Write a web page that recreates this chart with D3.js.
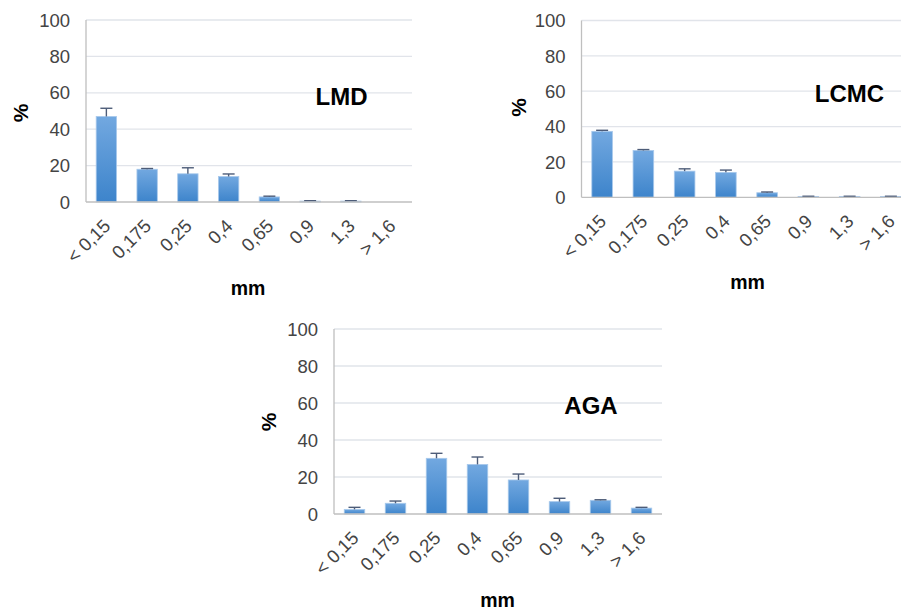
<!DOCTYPE html>
<html>
<head>
<meta charset="utf-8">
<script src="https://cdn.jsdelivr.net/npm/d3@7"></script>
<style>
  body { margin: 0; background: #fff; }
  svg { display: block; overflow: hidden; }
  text { font-family: Arial, "Liberation Sans", sans-serif; }
</style>
</head>
<body>
<div id="chart"></div>
<script>
// data
const categories = ["< 0,15", "0,175", "0,25", "0,4", "0,65", "0,9", "1,3", "> 1,6"];
const yTicks = [0, 20, 40, 60, 80, 100];

const lmdValues = [47, 18, 15.5, 14, 2.8, 0.5, 0.5, 0];
const lmdErrors = [4.5, 0.4, 3.3, 1.4, 0.4, 0.2, 0.2, 0];

const lcmcValues = [37.3, 26.5, 14.8, 14.1, 2.6, 0.5, 0.5, 0.5];
const lcmcErrors = [0.6, 0.5, 1.3, 1.3, 0.4, 0.1, 0.1, 0.1];

const agaValues = [2.5, 5.8, 30.1, 26.8, 18.4, 6.7, 7.4, 3.2];
const agaErrors = [1.1, 1.2, 2.7, 4.0, 3.2, 1.8, 0.3, 0.4];

const width = 901, height = 610;

const svg = d3.select('#chart')
  .append('svg')
  .attr('width', width)
  .attr('height', height);

// gradient for the bars
const defs = svg.append('defs');
const grad = defs.append('linearGradient')
  .attr('id', 'barGrad')
  .attr('x1', 0).attr('y1', 0).attr('x2', 0).attr('y2', 1);
grad.append('stop').attr('offset', '0%').attr('stop-color', '#72a8e0');
grad.append('stop').attr('offset', '100%').attr('stop-color', '#3d84cb');

// one panel per sample
const panels = [
  { name: 'LMD', values: lmdValues, errors: lmdErrors,
    left: 86, top: 20, right: 412, bottom: 202,
    label: [341.5, 105], pct: [28, 113], mm: [248, 295] },
  { name: 'LCMC', values: lcmcValues, errors: lcmcErrors,
    left: 581.5, top: 20.5, right: 911.5, bottom: 197.3,
    label: [849.5, 101.5], pct: [526, 107.5], mm: [747.5, 288.5] },
  { name: 'AGA', values: agaValues, errors: agaErrors,
    left: 334, top: 329, right: 662, bottom: 514,
    label: [591, 414], pct: [276, 422], mm: [497.5, 607] }
];

panels.forEach(p => drawPanel(p));

function drawPanel(p) {
  const g = svg.append('g');

  const x = d3.scaleBand()
    .domain(categories)
    .range([p.left, p.right])
    .paddingInner(0.5)
    .paddingOuter(0.25);

  const y = d3.scaleLinear()
    .domain([0, 100])
    .range([p.bottom, p.top]);

  // gridlines
  g.append('g')
    .selectAll('line')
    .data(yTicks.filter(t => t > 0))
    .enter().append('line')
    .attr('x1', p.left)
    .attr('x2', p.right)
    .attr('y1', d => y(d))
    .attr('y2', d => y(d))
    .style('stroke', '#e1e4ea')
    .style('stroke-width', 1.3);

  // y tick labels
  g.append('g')
    .selectAll('text')
    .data(yTicks)
    .enter().append('text')
    .attr('x', p.left - 16)
    .attr('y', d => y(d))
    .attr('dy', '0.36em')
    .attr('text-anchor', 'end')
    .attr('font-size', 18.5)
    .style('fill', '#444')
    .text(d => d);

  // bars
  g.append('g')
    .selectAll('rect')
    .data(p.values)
    .enter().append('rect')
    .attr('x', (d, i) => x(categories[i]))
    .attr('width', x.bandwidth())
    .attr('y', d => y(d))
    .attr('height', d => p.bottom - y(d))
    .attr('fill', 'url(#barGrad)')
    .style('stroke', '#a8c9ec')
    .style('stroke-width', 0.8);

  // error bars (plus side only)
  const eb = g.append('g')
    .selectAll('g')
    .data(p.values.map((v, i) => ({ v: v, e: p.errors[i], c: categories[i] })))
    .enter().append('g')
    .filter(d => d.v > 0);

  eb.append('line')
    .attr('x1', d => x(d.c) + x.bandwidth() / 2)
    .attr('x2', d => x(d.c) + x.bandwidth() / 2)
    .attr('y1', d => y(d.v))
    .attr('y2', d => y(d.v + d.e))
    .style('stroke', '#4d5c78')
    .style('stroke-width', 1.4);

  eb.append('line')
    .attr('x1', d => x(d.c) + x.bandwidth() / 2 - 6)
    .attr('x2', d => x(d.c) + x.bandwidth() / 2 + 6)
    .attr('y1', d => y(d.v + d.e))
    .attr('y2', d => y(d.v + d.e))
    .style('stroke', '#4d5c78')
    .style('stroke-width', 1.4);

  // axes lines
  g.append('line')
    .attr('x1', p.left).attr('x2', p.left)
    .attr('y1', p.top).attr('y2', p.bottom)
    .style('stroke', '#bfbfbf')
    .style('stroke-width', 1.3);

  g.append('line')
    .attr('x1', p.left).attr('x2', p.right)
    .attr('y1', p.bottom).attr('y2', p.bottom)
    .style('stroke', '#bfbfbf')
    .style('stroke-width', 1.3);

  // x tick labels, rotated
  g.append('g')
    .selectAll('text')
    .data(categories)
    .enter().append('text')
    .attr('transform', d => `translate(${x(d) + x.bandwidth() / 2 - 4},${p.bottom + 16}) rotate(-45)`)
    .attr('text-anchor', 'end')
    .attr('dy', '0.7em')
    .attr('font-size', 18.5)
    .style('fill', '#444')
    .text(d => d);

  // sample name
  g.append('text')
    .attr('x', p.label[0])
    .attr('y', p.label[1])
    .attr('text-anchor', 'middle')
    .attr('font-size', 24)
    .attr('font-weight', 'bold')
    .style('fill', '#000')
    .text(p.name);

  // axis titles
  g.append('text')
    .attr('transform', `translate(${p.pct[0]},${p.pct[1]}) rotate(-90)`)
    .attr('text-anchor', 'middle')
    .attr('font-size', 21)
    .attr('font-weight', 'bold')
    .style('fill', '#000')
    .text('%');

  g.append('text')
    .attr('x', p.mm[0])
    .attr('y', p.mm[1])
    .attr('text-anchor', 'middle')
    .attr('font-size', 19.5)
    .attr('font-weight', 'bold')
    .style('fill', '#000')
    .text('mm');
}
</script>
</body>
</html>
